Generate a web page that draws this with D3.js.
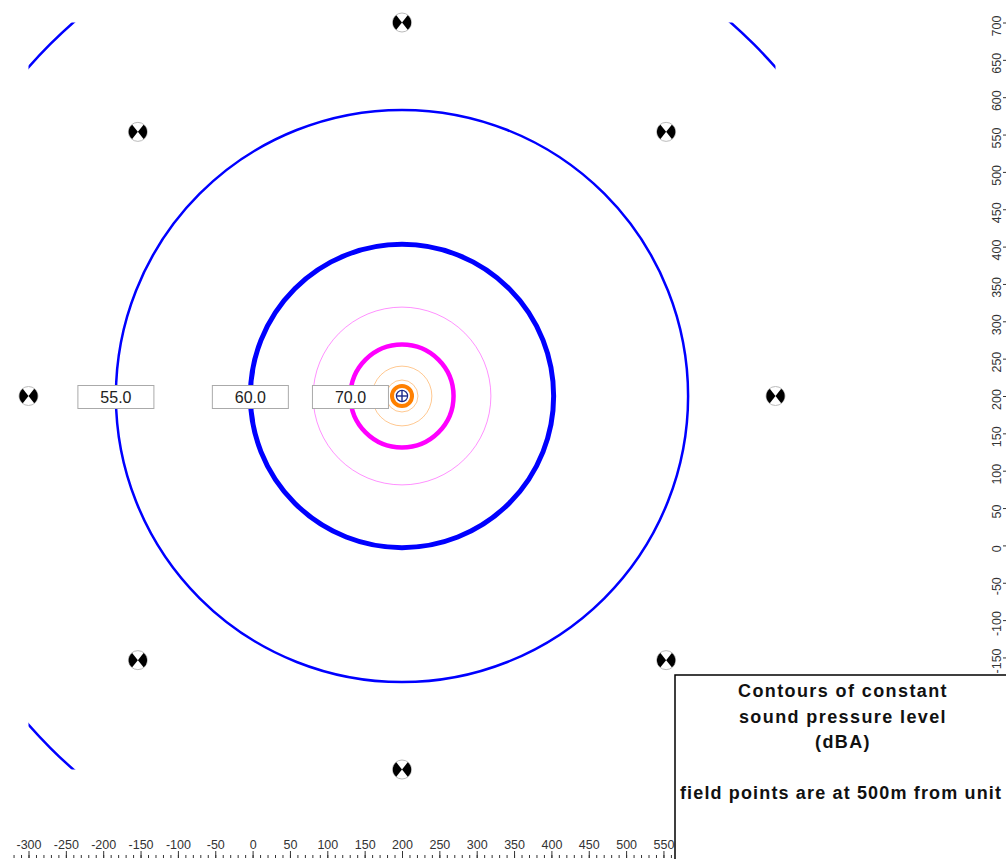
<!DOCTYPE html>
<html>
<head>
<meta charset="utf-8">
<script src="https://cdn.jsdelivr.net/npm/d3@7/dist/d3.min.js"></script>
<style>
  html, body { margin: 0; padding: 0; background: #fff; }
  svg { display: block; font-family: "Liberation Sans", Arial, sans-serif; }
</style>
</head>
<body>
<svg id="chart" width="1006" height="859"></svg>
<script>
// ---------- data ----------
const sourcePos = [200, 200];                       // unit position (m)
const contourLevels = [50, 55, 60, 65, 70, 75, 80, 85];          // dBA
const contourRadii  = [666, 383, 203, 119, 69, 40, 21.4, 13.4];  // m
const labelledLevels = [55, 60, 70];
const fieldPoints = [
  [200, 700], [553.6, 553.6], [700, 200], [553.6, -153.6],
  [200, -300], [-153.6, -153.6], [-300, 200], [-153.6, 553.6]
];
const gridExtent = [-300, 700];
const xTickLabels = d3.range(-300, 901, 50);
const yTickLabels = d3.range(-300, 701, 50);
const legendLines = ["Contours of constant", "sound pressure level", "(dBA)", "", "field points are at 500m from unit"];

// ---------- setup ----------
const svg = d3.select("#chart");
const xs = d3.scaleLinear().domain([-300, 700]).range([28.5, 775.5]);
const ys = d3.scaleLinear().domain([-300, 700]).range([769.5, 22.5]);
const rpx = r => xs(r) - xs(0);

function levelColor(l) {
  if (l <= 60) return "#0000ff";
  if (l <= 70) return "#ff00ff";
  return "#ff8000";
}
const levelWidth = {50: 2.5, 55: 2.5, 60: 5, 65: 0.8, 70: 4.5, 75: 0.8, 80: 0.8, 85: 4};

svg.append("defs").append("clipPath").attr("id", "grid")
  .append("rect")
  .attr("x", xs(gridExtent[0])).attr("y", ys(gridExtent[1]))
  .attr("width", xs(gridExtent[1]) - xs(gridExtent[0]))
  .attr("height", ys(gridExtent[0]) - ys(gridExtent[1]));

// ---------- contours ----------
const contours = contourLevels.map((l, i) => ({level: l, r: contourRadii[i]}));
svg.append("g").attr("clip-path", "url(#grid)")
  .selectAll("circle").data(contours).join("circle")
  .attr("cx", xs(sourcePos[0])).attr("cy", ys(sourcePos[1]))
  .attr("r", d => rpx(d.r))
  .attr("fill", "none")
  .attr("stroke", d => levelColor(d.level))
  .attr("stroke-opacity", d => levelWidth[d.level] < 1 ? 0.55 : 1)
  .attr("stroke-width", d => levelWidth[d.level]);

// ---------- source marker ----------
const src = svg.append("g").attr("transform", `translate(${xs(sourcePos[0])},${ys(sourcePos[1])})`);
src.append("circle").attr("r", 5.6).attr("fill", "#fff").attr("stroke", "#1a2a8a").attr("stroke-width", 1.2);
src.append("line").attr("x1", -5.6).attr("x2", 5.6).attr("stroke", "#1a2a8a").attr("stroke-width", 1.4);
src.append("line").attr("y1", -5.6).attr("y2", 5.6).attr("stroke", "#1a2a8a").attr("stroke-width", 1.4);

// ---------- contour labels ----------
const lab = svg.append("g").selectAll("g")
  .data(contours.filter(d => labelledLevels.includes(d.level))).join("g")
  .attr("transform", d => `translate(${xs(sourcePos[0] - d.r)},${ys(sourcePos[1]) + 1})`);
lab.append("rect").attr("x", -38).attr("y", -11.5).attr("width", 76).attr("height", 23)
  .attr("fill", "#fff").attr("stroke", "#aaa").attr("stroke-width", 1);
lab.append("text").attr("text-anchor", "middle").attr("dy", "0.35em")
  .attr("font-size", 16).attr("fill", "#222").text(d => d.level.toFixed(1));

// ---------- field points ----------
const fp = svg.append("g").selectAll("g").data(fieldPoints).join("g")
  .attr("transform", d => `translate(${xs(d[0])},${ys(d[1])})`);
fp.append("circle").attr("r", 9.5).attr("fill", "#fff").attr("stroke", "#bbb").attr("stroke-width", 1);
const sector = d3.arc().innerRadius(0).outerRadius(9.2);
fp.append("path").attr("fill", "#000")
  .attr("d", sector({startAngle: Math.PI / 2 - 0.9, endAngle: Math.PI / 2 + 0.9}));
fp.append("path").attr("fill", "#000")
  .attr("d", sector({startAngle: 3 * Math.PI / 2 - 0.9, endAngle: 3 * Math.PI / 2 + 0.9}));

// ---------- bottom axis ----------
const axY = 858;
const fmt = d => String(d);
const gxMinor = svg.append("g").attr("transform", `translate(0,${axY})`)
  .call(d3.axisTop(xs).tickValues(d3.range(-320, 901, 10)).tickSize(3).tickFormat(""));
const gxMajor = svg.append("g").attr("transform", `translate(0,${axY})`)
  .call(d3.axisTop(xs).tickValues(xTickLabels).tickSize(7).tickPadding(2).tickFormat(fmt));
[gxMinor, gxMajor].forEach(g => {
  g.select(".domain").remove();
  g.selectAll("line").attr("stroke", "#333");
  g.selectAll("text").attr("font-size", 12.5).attr("fill", "#333")
    .attr("font-family", "'Liberation Sans', Arial, sans-serif");
});

// ---------- right axis ----------
const axX = 1010;
const gyMinor = svg.append("g").attr("transform", `translate(${axX},0)`)
  .call(d3.axisLeft(ys).tickValues(d3.range(-300, 711, 10)).tickSize(3).tickFormat(""));
const gyMajor = svg.append("g").attr("transform", `translate(${axX},0)`)
  .call(d3.axisLeft(ys).tickValues(yTickLabels).tickSize(7).tickFormat(fmt));
[gyMinor, gyMajor].forEach(g => {
  g.select(".domain").remove();
  g.selectAll("line").attr("stroke", "#333");
});
gyMajor.selectAll("text")
  .attr("x", null).attr("dy", null)
  .attr("text-anchor", "middle")
  .attr("font-size", 12.5).attr("fill", "#333")
  .attr("font-family", "'Liberation Sans', Arial, sans-serif")
  .attr("transform", "translate(-9,3) rotate(-90)");

// ---------- legend box ----------
const lg = svg.append("g");
lg.append("rect").attr("x", 675).attr("y", 675).attr("width", 340).attr("height", 200)
  .attr("fill", "#fff").attr("stroke", "#000").attr("stroke-width", 1.5);
lg.selectAll("text").data(legendLines).join("text")
  .attr("x", (d, i) => i === 4 ? 841 : 843)
  .attr("y", (d, i) => 697 + i * 25.5)
  .attr("text-anchor", "middle").attr("font-weight", "bold").attr("font-size", 18)
  .attr("letter-spacing", (d, i) => i === 4 ? 1.15 : 1.4)
  .attr("fill", "#111").text(d => d);
</script>
</body>
</html>
